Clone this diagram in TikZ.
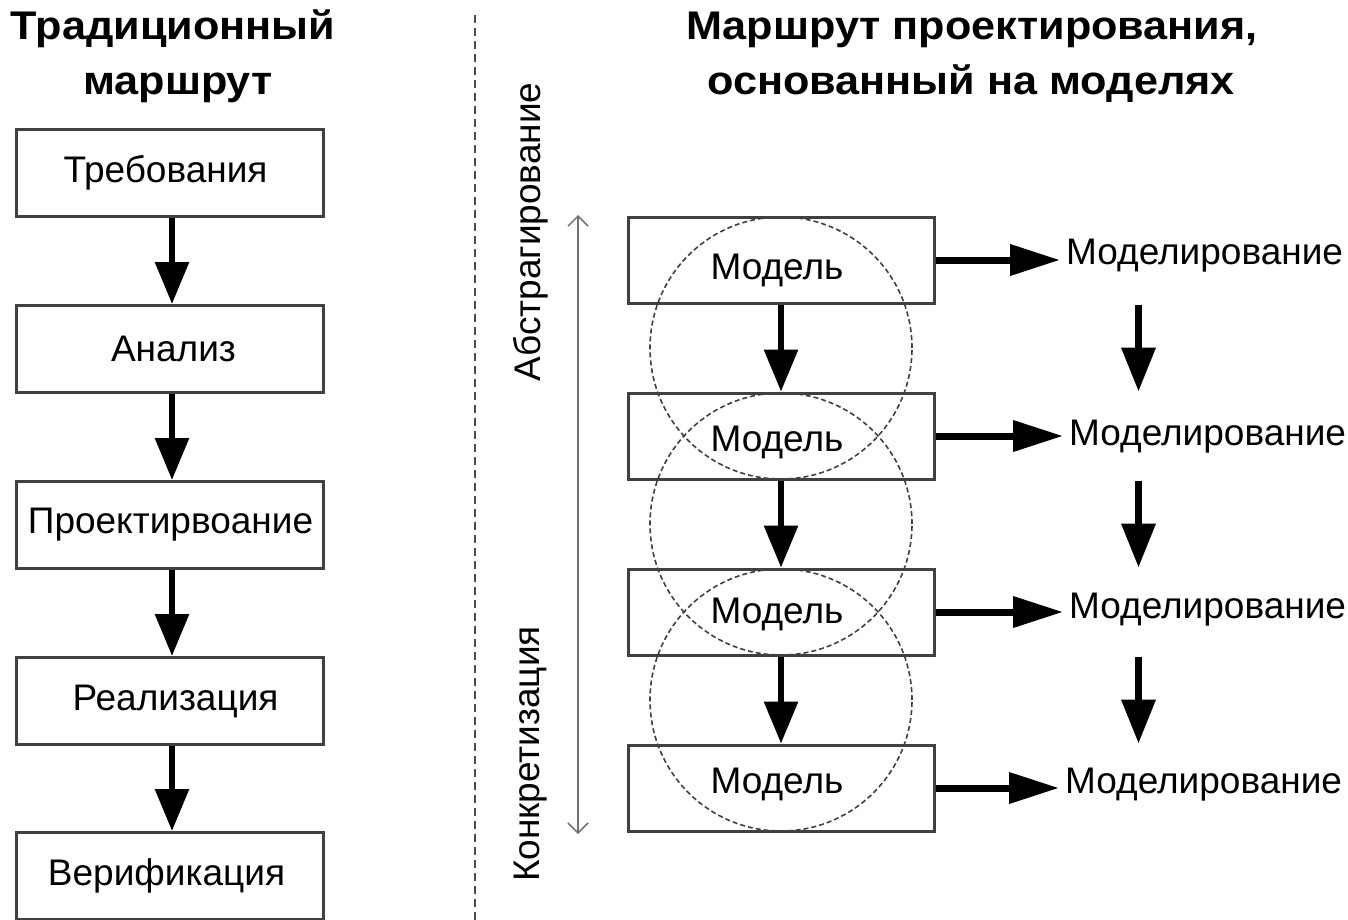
\documentclass[tikz,border=0pt]{standalone}
\usepackage{fontspec}
\setmainfont{Liberation Sans}
\newfontfamily\ttlfont[FakeStretch=1.08]{Liberation Sans}
\usetikzlibrary{arrows.meta}
% #1: twice the horizontal shift, #2: downward shift of the baseline, #3: text
\newcommand\mytxt[3]{\raisebox{-#2}[0pt][0pt]{\makebox[0pt]{\hspace*{#1}#3}}}
\newcommand\myshx[2]{\makebox[0pt]{\hspace*{#1}#2}}
\begin{document}
\begin{tikzpicture}[x=1pt,y=-1pt,
  box/.style={draw=black!75,line width=3pt,minimum width=307pt,minimum height=87pt,inner sep=0pt,font=\fontsize{37}{44}\selectfont},
  mbox/.style={box,minimum width=306pt,minimum height=86pt},
  lbl/.style={inner sep=0pt,font=\fontsize{37}{44}\selectfont},
  ttl/.style={inner sep=0pt,anchor=base,font=\fontsize{40}{48}\selectfont\ttlfont\bfseries},
  darr/.style={line width=6pt,-{Triangle[length=42pt,width=33pt]}},
  harr/.style={line width=7pt,-{Triangle[length=50pt,width=30pt]}},
  ring/.style={circle,draw=black!75,line width=1.6pt,dash pattern=on 5pt off 3pt,minimum size=262pt,inner sep=0pt},
  sep/.style={draw=black!70,line width=1.5pt,dash pattern=on 8pt off 5pt},
  axis/.style={draw=black!55,line width=1.5pt,{Straight Barb[length=10pt,width=20pt]}-{Straight Barb[length=10pt,width=20pt]}}
]
\useasboundingbox (0,0) rectangle (1348,920);

% titles
\node[ttl] (tl1) at (173,40) {Традиционный};
\node[ttl] (tl2) at (178,95) {маршрут};
\node[ttl] (tr1) at (972,40) {Маршрут проектирования,};
\node[ttl] (tr2) at (971,95) {основанный на моделях};

% separator
\coordinate (s1) at (475,15);
\coordinate (s2) at (475,920);
\draw[sep] (s1) -- (s2);

% traditional route
\node[box] (a1) at (169.5,173) {\myshx{-8pt}{Требования}};
\node[box] (a2) at (169.5,349) {\myshx{8pt}{Анализ}};
\node[box] (a3) at (169.5,525) {\myshx{2pt}{Проектирвоание}};
\node[box] (a4) at (169.5,701) {\myshx{12pt}{Реализация}};
\node[box] (a5) at (169.5,876) {\myshx{-6pt}{Верификация}};
\foreach \i/\j in {a1/a2,a2/a3,a3/a4,a4/a5}
  \draw[darr] ([xshift=2.5pt]\i.south) -- ([xshift=2.5pt]\j.north);

% model route
\node[mbox] (m1) at (781,260) {\mytxt{-8pt}{19pt}{Модель}};
\node[mbox] (m2) at (781,436) {\mytxt{-8pt}{15pt}{Модель}};
\node[mbox] (m3) at (781,612) {\mytxt{-8pt}{11pt}{Модель}};
\node[mbox] (m4) at (781,788) {\mytxt{-8pt}{5pt}{Модель}};
\foreach \i/\j in {m1/m2,m2/m3,m3/m4}
  \draw[darr] (\i.south) -- (\j.north);

\node[ring] (c1) at (781,348) {};
\node[ring] (c2) at (781,524) {};
\node[ring] (c3) at (781,700) {};

\node[lbl,anchor=west] (d1) at (1066,256) {Моделирование};
\node[lbl,anchor=west] (d2) at (1069,437) {Моделирование};
\node[lbl,anchor=west] (d3) at (1069,610) {Моделирование};
\node[lbl,anchor=west] (d4) at (1065,785) {Моделирование};
\foreach \i/\j in {m1/d1,m2/d2,m3/d3,m4/d4}
  \draw[harr] (\i.east) -- ([xshift=-6pt]\i.east -| \j.west);
\foreach \i/\j in {m1/m2,m2/m3,m3/m4}
  \draw[harr,-{Triangle[length=44pt,width=33pt]}] ([xshift=203pt]\i.south east) -- ([xshift=203pt]\j.north east);

% abstraction axis
\coordinate (v1) at (578,215);
\coordinate (v2) at (578,834);
\draw[axis] (v1) -- (v2);
\node[lbl,rotate=90] (ab) at (531,232) {Абстрагирование};
\node[lbl,rotate=90] (kn) at (531,754) {Конкретизация};
\end{tikzpicture}
\end{document}
